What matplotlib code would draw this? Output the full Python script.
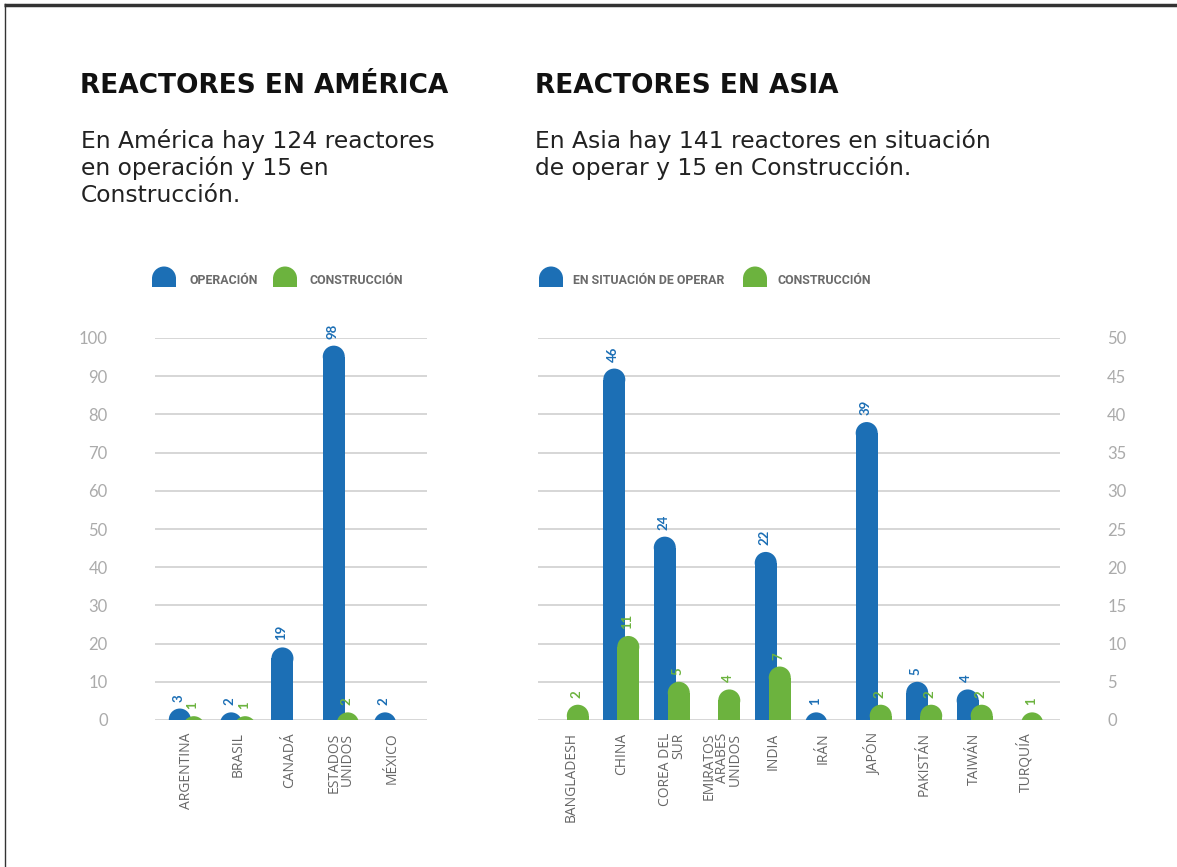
import matplotlib
matplotlib.use("Agg")
import matplotlib.pyplot as plt
from matplotlib.patches import Ellipse, Rectangle, Wedge

# ---- data ----
am_paises = ['ARGENTINA', 'BRASIL', 'CANADÁ', 'ESTADOS\nUNIDOS', 'MÉXICO']
am_operacion = [3, 2, 19, 98, 2]
am_construccion = [1, 1, 0, 2, 0]
am_ticks = [0, 10, 20, 30, 40, 50, 60, 70, 80, 90, 100]

as_paises = ['BANGLADESH', 'CHINA', 'COREA DEL\nSUR', 'EMIRATOS\nÁRABES\nUNIDOS', 'INDIA',
             'IRÁN', 'JAPÓN', 'PAKISTÁN', 'TAIWÁN', 'TURQUÍA']
as_operar = [0, 46, 24, 0, 22, 1, 39, 5, 4, 0]
as_construccion = [2, 11, 5, 4, 7, 0, 2, 2, 2, 1]
as_ticks = [0, 5, 10, 15, 20, 25, 30, 35, 40, 45, 50]

am_sub = ['En América hay 124 reactores', 'en operación y 15 en', 'Construcción.']
as_sub = ['En Asia hay 141 reactores en situación', 'de operar y 15 en Construcción.']

AZUL = '#1c6fb5'
VERDE = '#6cb33e'
GRIS_GRID = '#d6d6d6'
GRIS_TICK = '#ababab'
GRIS_LABEL = '#666666'

W, H = 1177, 867
fig = plt.figure(figsize=(W / 100, H / 100), dpi=100)
fig.patch.set_facecolor('white')

# overlay in pixel coords for texts / legend / frame
ov = fig.add_axes([0, 0, 1, 1])
ov.set_xlim(0, W)
ov.set_ylim(H, 0)
ov.axis('off')

ov.plot([4, W], [5, 5], color='#333333', lw=2.5, solid_capstyle='butt')
ov.plot([5, 5], [4, H], color='#333333', lw=1.0)

def titulo(x, y, s):
    ov.text(x, y, s, fontsize=19, fontweight='bold', family='DejaVu Sans', color='#111111',
            va='baseline', ha='left')

def subtitulo(x, y, lineas):
    for k, s in enumerate(lineas):
        ov.text(x, y + 27 * k, s, fontsize=16.8, family='DejaVu Sans', color='#222222',
                va='baseline', ha='left')

titulo(80, 93, 'REACTORES EN AMÉRICA')
titulo(535, 93, 'REACTORES EN ASIA')
subtitulo(81, 148, am_sub)
subtitulo(535, 148, as_sub)

def domo(x0, ybot, w, h, color):
    r = w / 2
    ov.add_patch(Rectangle((x0, ybot - (h - r)), w, h - r, color=color, lw=0))
    ov.add_patch(Wedge((x0 + r, ybot - (h - r) + 0.5), r, 180, 360, color=color, lw=0))

def leyenda(x, y, s):
    ov.text(x, y, s, fontsize=8.9, fontweight='bold', family='Roboto',
            color='#6b6b6b', va='center', ha='left')

domo(152, 287, 24, 21, AZUL)
leyenda(189, 281, 'OPERACIÓN')
domo(273, 287, 24, 21, VERDE)
leyenda(309, 281, 'CONSTRUCCIÓN')

domo(539, 287, 24, 21, AZUL)
leyenda(573, 281, 'EN SITUACIÓN DE OPERAR')
domo(743, 287, 24, 21, VERDE)
leyenda(777, 281, 'CONSTRUCCIÓN')


def px_axes(x0, x1, ytop, ybot):
    a = fig.add_axes([x0 / W, (H - ybot) / H, (x1 - x0) / W, (ybot - ytop) / H])
    a.set_facecolor('none')
    return a


def barras(ax, vals, offset_px, width_px, color, px_x, px_y):
    w = width_px / px_x
    ry = (width_px / 2) / px_y
    for i, v in enumerate(vals):
        if v <= 0:
            continue
        xc = i + offset_px / px_x
        if v > ry:
            ax.add_patch(Rectangle((xc - w / 2, 0), w, v - ry, color=color, lw=0, zorder=3))
        ax.add_patch(Ellipse((xc, v - ry), w, 2 * ry, color=color, lw=0, zorder=3))
        ax.annotate(str(v), (xc, v), xytext=(-1, 5), textcoords='offset points',
                    rotation=90, ha='center', va='bottom', color=color, fontsize=9.5,
                    fontweight='bold', family='Lato', annotation_clip=False)


def preparar(ax, paises, ticks, xlim, derecha=False):
    ax.set_xlim(*xlim)
    ax.set_ylim(ticks[0], ticks[-1])
    ax.set_yticks(ticks)
    ax.grid(axis='y', color=GRIS_GRID, lw=1.4, zorder=0)
    ax.set_axisbelow(True)
    for s in ax.spines.values():
        s.set_visible(False)
    if derecha:
        ax.yaxis.tick_right()
    ax.tick_params(axis='y', length=0, pad=34, labelsize=12, labelcolor=GRIS_TICK)
    for t in ax.get_yticklabels():
        t.set_family('Lato')
        t.set_horizontalalignment('left' if derecha else 'right')
    ax.set_xticks(range(len(paises)))
    ax.set_xticklabels(paises, rotation=90, fontsize=10, color=GRIS_LABEL, family='Open Sans',
                       linespacing=0.85)
    for t in ax.get_xticklabels():
        t.set_multialignment('right')
    ax.tick_params(axis='x', length=0, pad=9)


# America
ax1 = px_axes(155, 427, 338, 720)
preparar(ax1, am_paises, am_ticks, (-0.62, 4.68))
sp1 = 51.25
barras(ax1, am_operacion, -7, 22, AZUL, sp1, 382 / 100)
barras(ax1, am_construccion, 7, 22, VERDE, sp1, 382 / 100)

# Asia
ax2 = px_axes(538, 1060, 338, 720)
preparar(ax2, as_paises, as_ticks, (-0.65, 9.69), derecha=True)
sp2 = 50.44
barras(ax2, as_operar, -7, 22, AZUL, sp2, 382 / 50)
barras(ax2, as_construccion, 7, 22, VERDE, sp2, 382 / 50)

fig.savefig('out.png', dpi=100)
